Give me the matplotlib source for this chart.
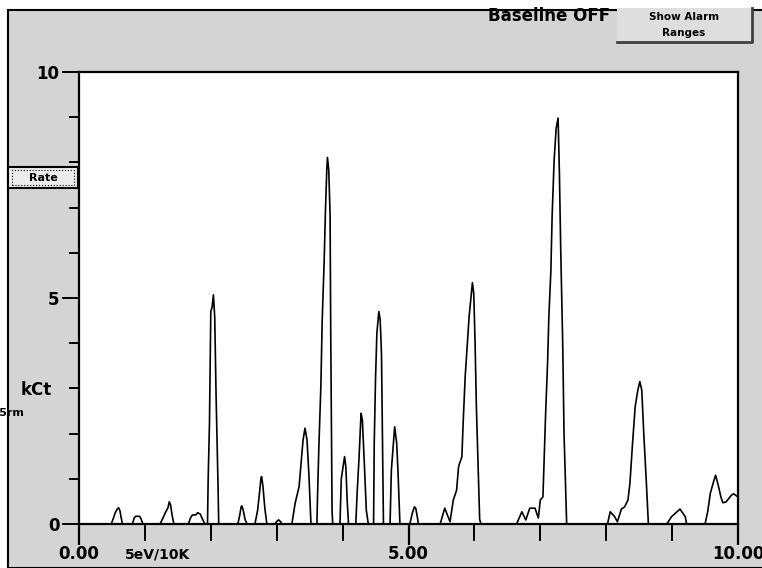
"""
Spectrum screen grab: counts (kCt) against energy, 0 to 10.
"""

import matplotlib
matplotlib.use("Agg")
import matplotlib.pyplot as plt
from matplotlib.patches import Rectangle

W, H = 762, 568
GRAY = "#d4d4d4"

# trace, energy and kCt, in drawing order
energy = [0.00, 0.49, 0.52, 0.55, 0.58, 0.60, 0.62, 0.64, 0.66,
          0.81, 0.84, 0.86, 0.92, 0.94, 0.97,
          1.23, 1.27, 1.31, 1.35, 1.37, 1.39, 1.41, 1.44,
          1.66, 1.69, 1.72, 1.77, 1.80, 1.84, 1.87, 1.91,
          1.95, 1.96, 1.98, 2.00, 2.02, 2.04, 2.06, 2.08, 2.11, 2.12,
          2.41, 2.44, 2.46, 2.47, 2.49, 2.52, 2.55,
          2.67, 2.71, 2.74, 2.76, 2.77, 2.79, 2.82, 2.85,
          2.97, 3.01, 3.03, 3.06, 3.08,
          3.23, 3.28, 3.34, 3.37, 3.40, 3.43, 3.46, 3.49, 3.52,
          3.61, 3.62, 3.64, 3.67, 3.69, 3.72, 3.74, 3.76, 3.77, 3.79,
          3.81, 3.82, 3.84, 3.85,
          3.96, 3.98, 4.01, 4.03, 4.05, 4.07, 4.09,
          4.20, 4.22, 4.25, 4.28, 4.30, 4.33, 4.36, 4.39,
          4.47, 4.48, 4.50, 4.52, 4.55, 4.57, 4.59, 4.62,
          4.72, 4.74, 4.77, 4.79, 4.82, 4.84, 4.87,
          5.02, 5.06, 5.09, 5.11, 5.14, 5.15,
          5.48, 5.55, 5.63, 5.68, 5.73, 5.76, 5.81, 5.83, 5.86, 5.89,
          5.92, 5.96, 5.97, 5.99, 6.01, 6.03, 6.06, 6.08, 6.10,
          6.64, 6.72, 6.78, 6.84, 6.92, 6.97, 7.00, 7.04, 7.06, 7.08,
          7.11, 7.13, 7.16, 7.18, 7.21, 7.24, 7.27, 7.29, 7.31, 7.34,
          7.36, 7.39, 7.40,
          8.02, 8.06, 8.12, 8.17, 8.23, 8.28, 8.33, 8.36, 8.40, 8.44,
          8.48, 8.51, 8.54, 8.57, 8.61, 8.64,
          8.92, 8.99, 9.12, 9.20, 9.22,
          9.50, 9.54, 9.58, 9.63, 9.66, 9.70, 9.74, 9.77, 9.82, 9.89,
          9.93, 9.98, 10.00]
kct = [0.00, 0.00, 0.12, 0.25, 0.33, 0.36, 0.30, 0.14, 0.00,
       0.00, 0.14, 0.17, 0.17, 0.12, 0.00,
       0.00, 0.12, 0.25, 0.36, 0.49, 0.42, 0.22, 0.00,
       0.00, 0.13, 0.20, 0.20, 0.25, 0.22, 0.12, 0.00,
       0.00, 1.00, 2.23, 4.70, 4.80, 5.07, 4.56, 2.85, 0.83, 0.00,
       0.00, 0.20, 0.38, 0.40, 0.32, 0.10, 0.00,
       0.00, 0.30, 0.70, 1.00, 1.05, 0.85, 0.35, 0.00,
       0.00, 0.07, 0.09, 0.05, 0.00,
       0.00, 0.46, 0.83, 1.34, 1.86, 2.12, 1.86, 1.05, 0.00,
       0.00, 0.64, 1.71, 3.04, 4.48, 5.80, 6.95, 7.83, 8.11, 7.83,
       6.84, 4.22, 0.30, 0.00,
       0.00, 1.00, 1.30, 1.49, 1.25, 0.50, 0.00,
       0.00, 0.67, 1.48, 2.45, 2.30, 1.33, 0.30, 0.00,
       0.00, 1.79, 3.23, 4.22, 4.70, 4.52, 3.78, 0.00,
       0.00, 1.19, 1.77, 2.15, 1.80, 1.19, 0.00,
       0.00, 0.25, 0.38, 0.35, 0.10, 0.00,
       0.00, 0.35, 0.05, 0.53, 0.75, 1.27, 1.49, 2.26, 3.26, 3.92,
       4.59, 5.21, 5.34, 5.10, 4.03, 2.60, 1.12, 0.10, 0.00,
       0.00, 0.27, 0.09, 0.35, 0.35, 0.13, 0.53, 0.60, 1.49, 2.41,
       3.55, 4.59, 5.58, 6.84, 8.05, 8.75, 8.98, 7.76, 6.06, 4.00,
       2.01, 0.53, 0.00,
       0.00, 0.27, 0.18, 0.05, 0.33, 0.38, 0.53, 0.90, 1.79, 2.60,
       2.96, 3.15, 2.96, 2.01, 0.90, 0.00,
       0.00, 0.16, 0.33, 0.16, 0.00,
       0.00, 0.27, 0.68, 0.94, 1.08, 0.86, 0.60, 0.47, 0.49, 0.62,
       0.67, 0.62, 0.60]

x_major = [0, 5, 10]
x_labels = ["0.00", "5.00", "10.00"]
y_major = [0, 5, 10]
y_labels = ["0", "5", "10"]


def fx(px):
    return px / W


def fy(py):
    return 1 - py / H


fig = plt.figure(figsize=(W / 100, H / 100), dpi=100, facecolor="white")

# grey panel of the window, kept under the axes
fig.patches.append(Rectangle((fx(8), 0), 1, fy(10), transform=fig.transFigure,
                             facecolor=GRAY, edgecolor="black", lw=1.5, zorder=-10))

ax = fig.add_axes([fx(79), fy(524), fx(738) - fx(79), fy(72) - fy(524)])
ax.set_zorder(1)
ax.set_facecolor("white")
ax.plot(energy, kct, color="black", lw=1.2, clip_on=False)
ax.set_xlim(0, 10)
ax.set_ylim(0, 10)

for s in ax.spines.values():
    s.set_linewidth(1.6)

ax.set_xticks(x_major)
ax.set_xticklabels(x_labels)
ax.set_xticks(range(11), minor=True)
ax.set_yticks(y_major)
ax.set_yticklabels(y_labels)
ax.set_yticks(range(11), minor=True)
ax.tick_params(axis="x", which="major", length=15, width=1.6, pad=0)
ax.tick_params(axis="x", which="minor", length=12, width=1.4)
ax.tick_params(axis="y", which="major", length=12, width=1.4, pad=2)
ax.tick_params(axis="y", which="minor", length=7, width=1.4)
for lab in ax.get_xticklabels() + ax.get_yticklabels():
    lab.set_fontweight("bold")
    lab.set_fontsize(12)

# labels and controls around the plot
fig.text(fx(36), fy(390), "kCt", fontsize=12, fontweight="bold", ha="center", va="center")
fig.text(fx(-4), fy(413), "'5rm", fontsize=8, fontweight="bold", ha="left", va="center")
fig.text(fx(125), fy(554), "5eV/10K", fontsize=10, fontweight="bold", ha="left", va="center")
fig.text(fx(549), fy(16), "Baseline OFF", fontsize=12, fontweight="bold", ha="center", va="center")

# "Show Alarm Ranges" button
fig.patches.append(Rectangle((fx(617), fy(42)), fx(135), 34 / H, transform=fig.transFigure,
                             facecolor="#dedede", edgecolor="none", zorder=1))
fig.lines.append(plt.Line2D([fx(617), fx(752), fx(752)], [fy(42), fy(42), fy(8)],
                            transform=fig.transFigure, color="#404040", lw=2))
fig.text(fx(684), fy(17), "Show Alarm", fontsize=7.5, fontweight="bold", ha="center", va="center")
fig.text(fx(684), fy(33), "Ranges", fontsize=7.5, fontweight="bold", ha="center", va="center")

# "Rate" button
fig.patches.append(Rectangle((fx(8), fy(188)), fx(70), 21 / H, transform=fig.transFigure,
                             facecolor="#ececec", edgecolor="black", lw=1.5, zorder=1))
fig.patches.append(Rectangle((fx(12), fy(185)), fx(62), 15 / H, transform=fig.transFigure,
                             facecolor="none", edgecolor="black", lw=0.8, ls=":", zorder=2))
fig.text(fx(43), fy(178), "Rate", fontsize=8, fontweight="bold", ha="center", va="center")

fig.savefig("out.png", dpi=100, facecolor=fig.get_facecolor())
